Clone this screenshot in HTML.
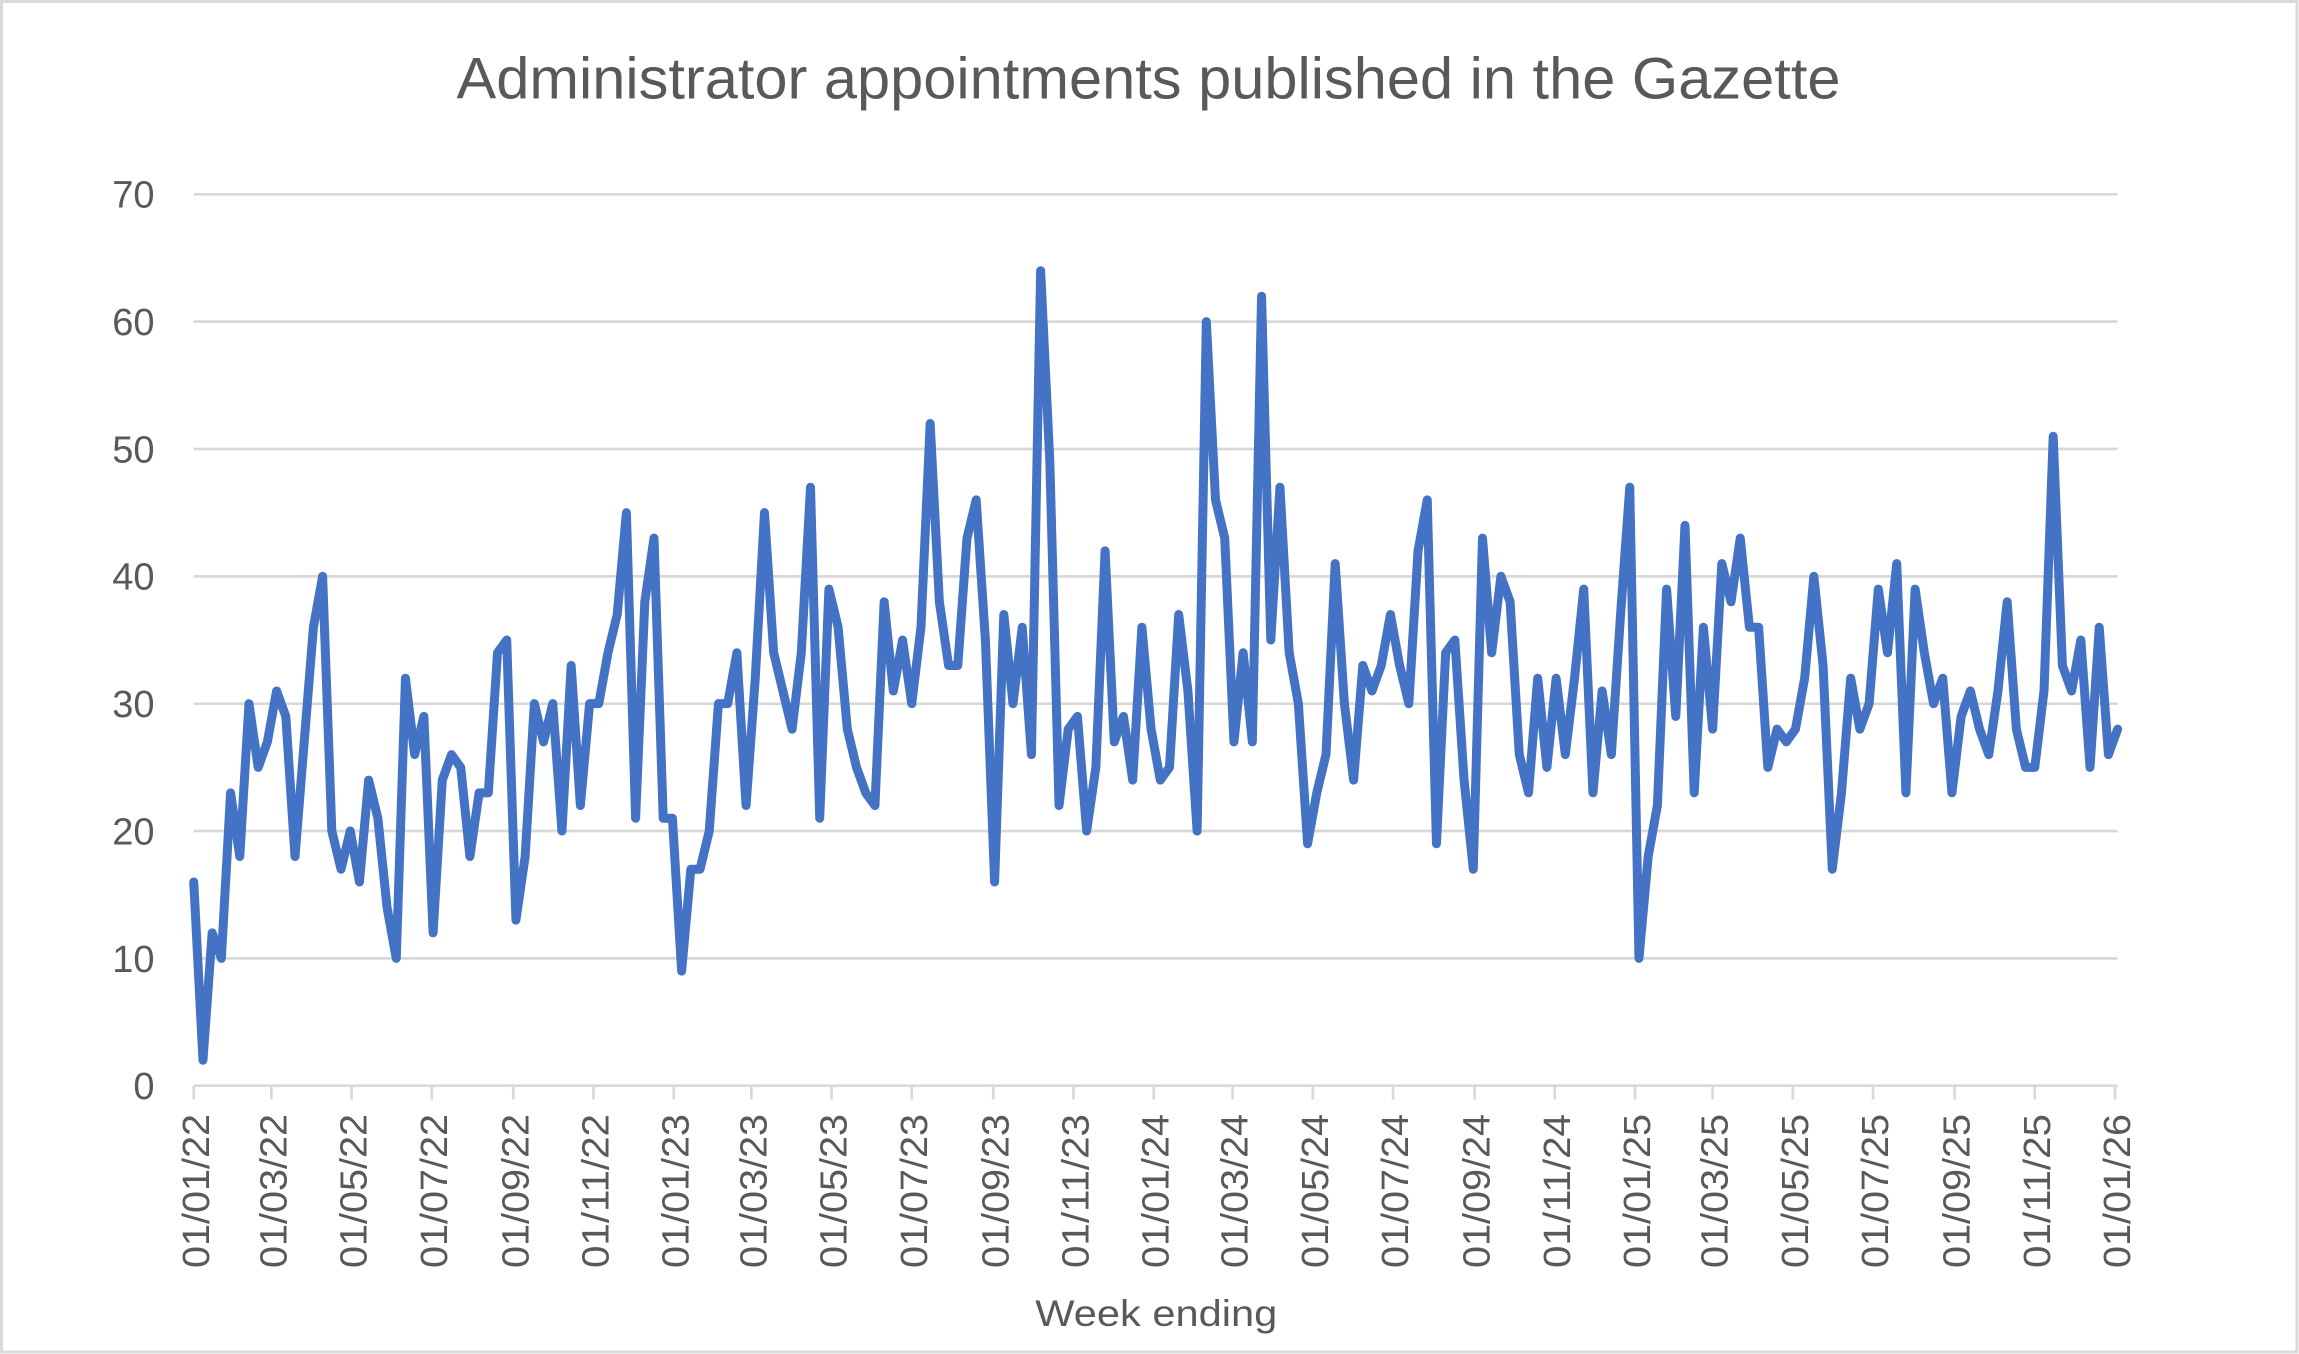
<!DOCTYPE html>
<html>
<head>
<meta charset="utf-8">
<style>
  html,body{margin:0;padding:0;background:#fff;}
  svg{display:block;}
  text{font-family:"Liberation Sans", Arial, sans-serif; fill:#595959;}
</style>
</head>
<body>
<svg xmlns="http://www.w3.org/2000/svg" width="2299" height="1354" viewBox="0 0 2299 1354">
  <rect x="0" y="0" width="2299" height="1354" fill="#ffffff"/>
  <rect x="1.5" y="1.5" width="2295.5" height="1350.5" fill="none" stroke="#d9d9d9" stroke-width="3"/>

  <!-- Title -->
  <text x="1148.5" y="98.3" font-size="58" text-anchor="middle" textLength="1384" lengthAdjust="spacingAndGlyphs">Administrator appointments published in the Gazette</text>

  <!-- Gridlines -->
  <g stroke="#d9d9d9" stroke-width="2.7">
    <line x1="193.75" y1="194.32" x2="2117.6" y2="194.32"/>
    <line x1="193.75" y1="321.66" x2="2117.6" y2="321.66"/>
    <line x1="193.75" y1="449.0" x2="2117.6" y2="449.0"/>
    <line x1="193.75" y1="576.34" x2="2117.6" y2="576.34"/>
    <line x1="193.75" y1="703.68" x2="2117.6" y2="703.68"/>
    <line x1="193.75" y1="831.02" x2="2117.6" y2="831.02"/>
    <line x1="193.75" y1="958.36" x2="2117.6" y2="958.36"/>
    <line x1="193.75" y1="1085.7" x2="2117.6" y2="1085.7"/>
  </g>

  <!-- Ticks -->
  <g stroke="#d9d9d9" stroke-width="2.7">
    <line x1="193.75" y1="1085.7" x2="193.75" y2="1099.5"/>
    <line x1="271.34" y1="1085.7" x2="271.34" y2="1099.5"/>
    <line x1="351.55" y1="1085.7" x2="351.55" y2="1099.5"/>
    <line x1="431.77" y1="1085.7" x2="431.77" y2="1099.5"/>
    <line x1="513.31" y1="1085.7" x2="513.31" y2="1099.5"/>
    <line x1="593.52" y1="1085.7" x2="593.52" y2="1099.5"/>
    <line x1="673.74" y1="1085.7" x2="673.74" y2="1099.5"/>
    <line x1="751.33" y1="1085.7" x2="751.33" y2="1099.5"/>
    <line x1="831.54" y1="1085.7" x2="831.54" y2="1099.5"/>
    <line x1="911.76" y1="1085.7" x2="911.76" y2="1099.5"/>
    <line x1="993.29" y1="1085.7" x2="993.29" y2="1099.5"/>
    <line x1="1073.51" y1="1085.7" x2="1073.51" y2="1099.5"/>
    <line x1="1153.72" y1="1085.7" x2="1153.72" y2="1099.5"/>
    <line x1="1232.63" y1="1085.7" x2="1232.63" y2="1099.5"/>
    <line x1="1312.84" y1="1085.7" x2="1312.84" y2="1099.5"/>
    <line x1="1393.06" y1="1085.7" x2="1393.06" y2="1099.5"/>
    <line x1="1474.59" y1="1085.7" x2="1474.59" y2="1099.5"/>
    <line x1="1554.80" y1="1085.7" x2="1554.80" y2="1099.5"/>
    <line x1="1635.02" y1="1085.7" x2="1635.02" y2="1099.5"/>
    <line x1="1712.61" y1="1085.7" x2="1712.61" y2="1099.5"/>
    <line x1="1792.83" y1="1085.7" x2="1792.83" y2="1099.5"/>
    <line x1="1873.04" y1="1085.7" x2="1873.04" y2="1099.5"/>
    <line x1="1954.58" y1="1085.7" x2="1954.58" y2="1099.5"/>
    <line x1="2034.79" y1="1085.7" x2="2034.79" y2="1099.5"/>
    <line x1="2115.01" y1="1085.7" x2="2115.01" y2="1099.5"/>
  </g>

  <!-- Y axis labels -->
  <g font-size="38" text-anchor="end">
    <text x="154.5" y="207.7">70</text>
    <text x="154.5" y="335.1">60</text>
    <text x="154.5" y="462.4">50</text>
    <text x="154.5" y="589.7">40</text>
    <text x="154.5" y="717.1">30</text>
    <text x="154.5" y="844.4">20</text>
    <text x="154.5" y="971.8">10</text>
    <text x="154.5" y="1099.1">0</text>
  </g>

  <!-- X axis labels -->
  <g font-size="38">
    <text transform="translate(208.75,1268) rotate(-90)" textLength="154" lengthAdjust="spacingAndGlyphs">01/01/22</text>
    <text transform="translate(286.34,1268) rotate(-90)" textLength="154" lengthAdjust="spacingAndGlyphs">01/03/22</text>
    <text transform="translate(366.55,1268) rotate(-90)" textLength="154" lengthAdjust="spacingAndGlyphs">01/05/22</text>
    <text transform="translate(446.77,1268) rotate(-90)" textLength="154" lengthAdjust="spacingAndGlyphs">01/07/22</text>
    <text transform="translate(528.31,1268) rotate(-90)" textLength="154" lengthAdjust="spacingAndGlyphs">01/09/22</text>
    <text transform="translate(608.52,1268) rotate(-90)" textLength="154" lengthAdjust="spacingAndGlyphs">01/11/22</text>
    <text transform="translate(688.74,1268) rotate(-90)" textLength="154" lengthAdjust="spacingAndGlyphs">01/01/23</text>
    <text transform="translate(766.33,1268) rotate(-90)" textLength="154" lengthAdjust="spacingAndGlyphs">01/03/23</text>
    <text transform="translate(846.54,1268) rotate(-90)" textLength="154" lengthAdjust="spacingAndGlyphs">01/05/23</text>
    <text transform="translate(926.76,1268) rotate(-90)" textLength="154" lengthAdjust="spacingAndGlyphs">01/07/23</text>
    <text transform="translate(1008.29,1268) rotate(-90)" textLength="154" lengthAdjust="spacingAndGlyphs">01/09/23</text>
    <text transform="translate(1088.51,1268) rotate(-90)" textLength="154" lengthAdjust="spacingAndGlyphs">01/11/23</text>
    <text transform="translate(1168.72,1268) rotate(-90)" textLength="154" lengthAdjust="spacingAndGlyphs">01/01/24</text>
    <text transform="translate(1247.63,1268) rotate(-90)" textLength="154" lengthAdjust="spacingAndGlyphs">01/03/24</text>
    <text transform="translate(1327.84,1268) rotate(-90)" textLength="154" lengthAdjust="spacingAndGlyphs">01/05/24</text>
    <text transform="translate(1408.06,1268) rotate(-90)" textLength="154" lengthAdjust="spacingAndGlyphs">01/07/24</text>
    <text transform="translate(1489.59,1268) rotate(-90)" textLength="154" lengthAdjust="spacingAndGlyphs">01/09/24</text>
    <text transform="translate(1569.80,1268) rotate(-90)" textLength="154" lengthAdjust="spacingAndGlyphs">01/11/24</text>
    <text transform="translate(1650.02,1268) rotate(-90)" textLength="154" lengthAdjust="spacingAndGlyphs">01/01/25</text>
    <text transform="translate(1727.61,1268) rotate(-90)" textLength="154" lengthAdjust="spacingAndGlyphs">01/03/25</text>
    <text transform="translate(1807.83,1268) rotate(-90)" textLength="154" lengthAdjust="spacingAndGlyphs">01/05/25</text>
    <text transform="translate(1888.04,1268) rotate(-90)" textLength="154" lengthAdjust="spacingAndGlyphs">01/07/25</text>
    <text transform="translate(1969.58,1268) rotate(-90)" textLength="154" lengthAdjust="spacingAndGlyphs">01/09/25</text>
    <text transform="translate(2049.79,1268) rotate(-90)" textLength="154" lengthAdjust="spacingAndGlyphs">01/11/25</text>
    <text transform="translate(2130.01,1268) rotate(-90)" textLength="154" lengthAdjust="spacingAndGlyphs">01/01/26</text>
  </g>

  <!-- Axis title -->
  <text x="1156.3" y="1326" font-size="37" text-anchor="middle" textLength="242" lengthAdjust="spacingAndGlyphs">Week ending</text>

  <!-- Data series -->
  <g transform="translate(193.75,1085.7) scale(9.2052,-12.734)">
    <polyline fill="none" stroke="#4472C4" stroke-width="9" stroke-linejoin="round" stroke-linecap="round" vector-effect="non-scaling-stroke"
      points="0,16 1,2 2,12 3,10 4,23 5,18 6,30 7,25 8,27 9,31 10,29 11,18 12,27 13,36 14,40 15,20 16,17 17,20 18,16 19,24 20,21 21,14 22,10 23,32 24,26 25,29 26,12 27,24 28,26 29,25 30,18 31,23 32,23 33,34 34,35 35,13 36,18 37,30 38,27 39,30 40,20 41,33 42,22 43,30 44,30 45,34 46,37 47,45 48,21 49,38 50,43 51,21 52,21 53,9 54,17 55,17 56,20 57,30 58,30 59,34 60,22 61,32 62,45 63,34 64,31 65,28 66,34 67,47 68,21 69,39 70,36 71,28 72,25 73,23 74,22 75,38 76,31 77,35 78,30 79,36 80,52 81,38 82,33 83,33 84,43 85,46 86,35 87,16 88,37 89,30 90,36 91,26 92,64 93,49 94,22 95,28 96,29 97,20 98,25 99,42 100,27 101,29 102,24 103,36 104,28 105,24 106,25 107,37 108,31 109,20 110,60 111,46 112,43 113,27 114,34 115,27 116,62 117,35 118,47 119,34 120,30 121,19 122,23 123,26 124,41 125,30 126,24 127,33 128,31 129,33 130,37 131,33 132,30 133,42 134,46 135,19 136,34 137,35 138,24 139,17 140,43 141,34 142,40 143,38 144,26 145,23 146,32 147,25 148,32 149,26 150,32 151,39 152,23 153,31 154,26 155,37 156,47 157,10 158,18 159,22 160,39 161,29 162,44 163,23 164,36 165,28 166,41 167,38 168,43 169,36 170,36 171,25 172,28 173,27 174,28 175,32 176,40 177,33 178,17 179,23 180,32 181,28 182,30 183,39 184,34 185,41 186,23 187,39 188,34 189,30 190,32 191,23 192,29 193,31 194,28 195,26 196,31 197,38 198,28 199,25 200,25 201,31 202,51 203,33 204,31 205,35 206,25 207,36 208,26 209,28"/>
  </g>
</svg>
</body>
</html>
